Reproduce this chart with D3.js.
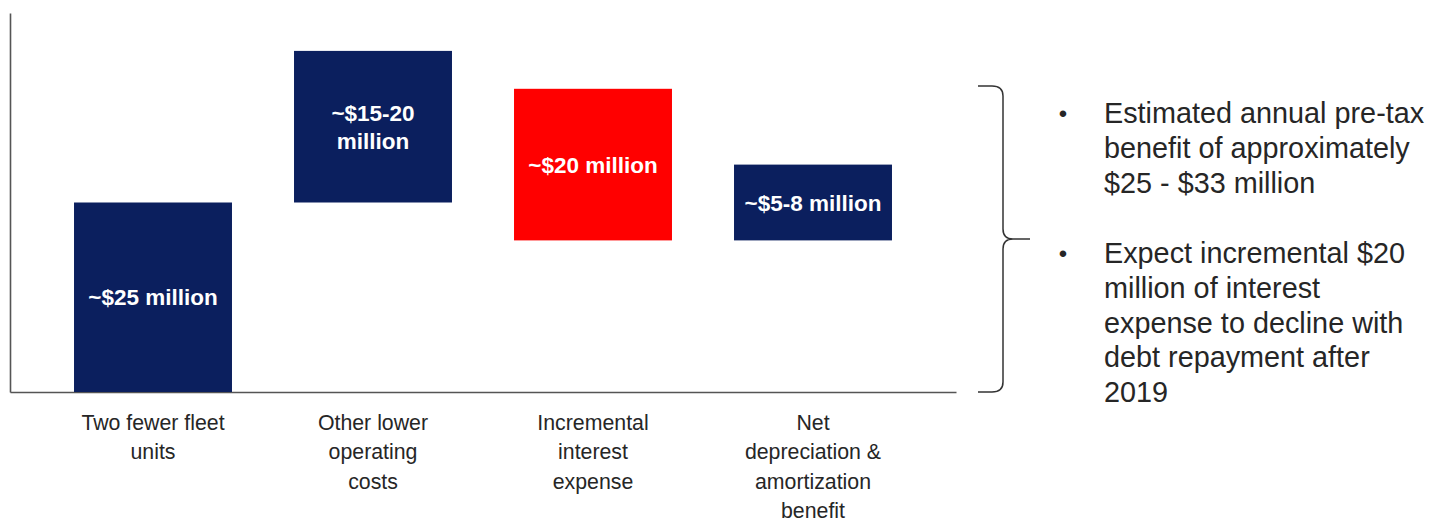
<!DOCTYPE html>
<html>
<head>
<meta charset="utf-8">
<script src="https://cdn.jsdelivr.net/npm/d3@7"></script>
<style>
  body { margin: 0; background: #fff; }
  svg text { font-family: "Liberation Sans", Arial, sans-serif; }
</style>
</head>
<body>
<div id="chartWrapper"></div>
<script>
// chart values (in $ millions, approx.)
const categories = [
  ["Two fewer fleet", "units"],
  ["Other lower", "operating", "costs"],
  ["Incremental", "interest", "expense"],
  ["Net", "depreciation &", "amortization", "benefit"]
];
const barLow = [0, 25, 20, 20];
const barHigh = [25, 45, 40, 30];
const barLabels = [["~$25 million"], ["~$15-20", "million"], ["~$20 million"], ["~$5-8 million"]];
const barIsCost = [false, false, true, false];
const bullets = [
  ["Estimated annual pre-tax", "benefit of approximately", "$25 - $33 million"],
  ["Expect incremental $20", "million of interest", "expense to decline with", "debt repayment after", "2019"]
];

const W = 1430, H = 518;
const navy = '#0b1f5e', red = '#ff0000', ink = '#262626';

const svg = d3.select('#chartWrapper').append('svg')
  .attr('width', W)
  .attr('height', H);

const cats = categories.map((c, i) => 'c' + i);

const x = d3.scaleBand()
  .domain(cats)
  .range([10, 956])
  .paddingInner(0.282)
  .paddingOuter(0.291);

const y = d3.scaleLinear()
  .domain([0, 50])
  .range([392, 13]);

// axes: plain lines, no ticks
svg.append('g')
  .attr('transform', `translate(${x.range()[0]},0)`)
  .call(d3.axisLeft(y).ticks(0).tickSize(0).tickSizeOuter(0));
svg.append('g')
  .attr('transform', `translate(0,${y(0)})`)
  .call(d3.axisBottom(x).tickSize(0).tickSizeOuter(0).tickFormat(''));
svg.selectAll('.domain').attr('stroke', '#555').attr('stroke-width', 1.6);

// bars
const barG = svg.append('g');
barG.selectAll('rect')
  .data(cats)
  .enter()
  .append('rect')
  .attr('x', d => x(d))
  .attr('width', x.bandwidth())
  .attr('y', (d, i) => y(barHigh[i]))
  .attr('height', (d, i) => y(barLow[i]) - y(barHigh[i]))
  .attr('fill', (d, i) => barIsCost[i] ? red : navy);

// labels inside bars
const lblLine = 28;
cats.forEach((c, i) => {
  const cx = x(c) + x.bandwidth() / 2;
  const cy = (y(barLow[i]) + y(barHigh[i])) / 2;
  const lines = barLabels[i];
  const t = barG.append('text')
    .attr('text-anchor', 'middle')
    .attr('fill', '#fff')
    .attr('font-weight', 'bold')
    .attr('font-size', 22.5);
  lines.forEach((ln, j) => {
    t.append('tspan')
      .attr('x', cx)
      .attr('y', cy + (j - (lines.length - 1) / 2) * lblLine)
      .attr('dy', '0.36em')
      .text(ln);
  });
});

// category labels under the axis
cats.forEach((c, i) => {
  const cx = x(c) + x.bandwidth() / 2;
  const t = svg.append('text')
    .attr('text-anchor', 'middle')
    .attr('fill', ink)
    .attr('font-size', 21.3);
  categories[i].forEach((ln, j) => {
    t.append('tspan')
      .attr('x', cx)
      .attr('y', y(0) + 30 + j * 29.5)
      .attr('dy', '0.36em')
      .text(ln);
  });
});

// right curly brace
const bx = 1003, braceTop = 86, braceBot = 392, braceMid = 239;
svg.append('path')
  .attr('d', `M978,${braceTop} L992,${braceTop} Q${bx},${braceTop} ${bx},${braceTop + 10}
              L${bx},${braceMid - 10} Q${bx},${braceMid} ${bx + 10},${braceMid} L1030,${braceMid}
              M${bx + 10},${braceMid} Q${bx},${braceMid} ${bx},${braceMid + 10}
              L${bx},${braceBot - 10} Q${bx},${braceBot} 992,${braceBot} L978,${braceBot}`)
  .attr('fill', 'none')
  .attr('stroke', '#333')
  .attr('stroke-width', 1.5);

// bullet text
const bulletTop = [113, 253];
const bulletLine = 34.7;
bullets.forEach((b, i) => {
  svg.append('text')
    .attr('x', 1063).attr('y', bulletTop[i]).attr('dy', '0.36em')
    .attr('text-anchor', 'middle')
    .attr('font-size', 24).attr('fill', ink)
    .text('•');
  const t = svg.append('text')
    .attr('fill', ink)
    .attr('font-size', 28.8);
  b.forEach((ln, j) => {
    t.append('tspan')
      .attr('x', 1104)
      .attr('y', bulletTop[i] + j * bulletLine)
      .attr('dy', '0.36em')
      .text(ln);
  });
});
</script>
</body>
</html>
